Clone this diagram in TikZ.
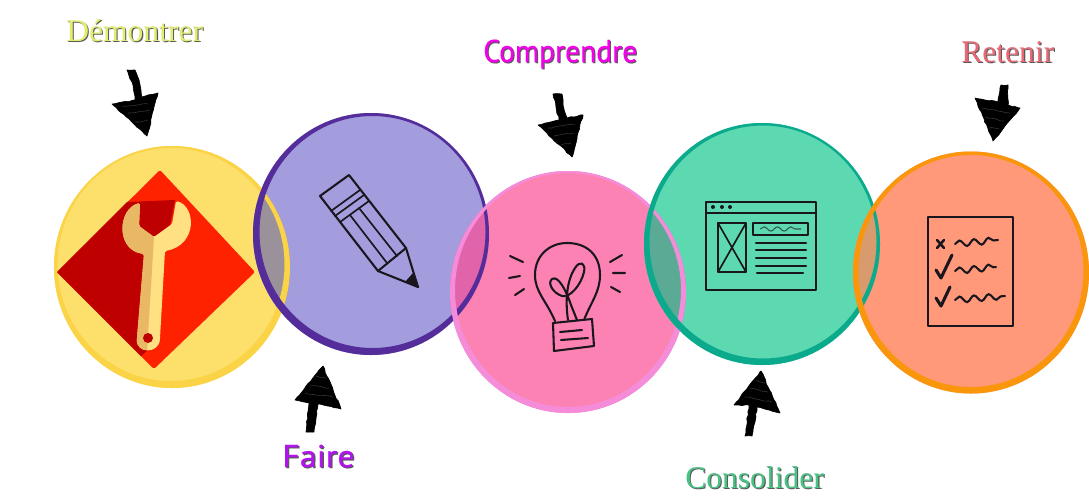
\documentclass[tikz,border=0pt]{standalone}
\usepackage{fontspec}
\setmainfont{Liberation Serif}
\newfontfamily\dinfont[FakeBold=0.35]{PT Sans}
\usetikzlibrary{decorations.pathmorphing}
\definecolor{yFill}{RGB}{253,223,108}
\definecolor{yRing}{RGB}{250,212,70}
\definecolor{vFill}{RGB}{163,157,222}
\definecolor{vRing}{RGB}{84,45,155}
\definecolor{pFill}{RGB}{252,130,180}
\definecolor{pRing}{RGB}{245,140,218}
\definecolor{gFill}{RGB}{93,217,178}
\definecolor{gRing}{RGB}{12,170,140}
\definecolor{oFill}{RGB}{255,153,122}
\definecolor{oRing}{RGB}{250,150,12}
\definecolor{lensYV}{RGB}{155,145,155}
\definecolor{lensVP}{RGB}{225,100,170}
\definecolor{lensPG}{RGB}{90,170,150}
\definecolor{lensGO}{RGB}{215,155,110}
\definecolor{redL}{RGB}{255,34,0}
\definecolor{redD}{RGB}{190,0,0}
\definecolor{wrL}{RGB}{255,224,130}
\definecolor{wrD}{RGB}{232,184,100}
\definecolor{ink}{RGB}{25,22,30}
\definecolor{tDem}{RGB}{226,236,110}
\definecolor{tCom}{RGB}{245,0,235}
\definecolor{tFai}{RGB}{178,20,240}
\definecolor{tCon}{RGB}{72,195,132}
\definecolor{tRet}{RGB}{232,105,118}
\tikzset{
  sketcharrow/.style={fill=black,draw=black,line width=0.5pt,line join=round,
    decorate,decoration={random steps,segment length=2.6,amplitude=0.45}},
  scratch/.style={draw=white,opacity=0.2,line width=0.45pt,decorate,decoration={random steps,segment length=3,amplitude=0.5}},
  icon/.style={draw=ink,line width=1.55pt,line cap=round,line join=round},
  iconthin/.style={draw=ink,line width=1.25pt,line cap=round,line join=round},
  squig/.style={draw=ink,line width=1.55pt,line cap=round,decorate,decoration={snake,segment length=11,amplitude=2.3}},
  serlabel/.style={anchor=base west,inner sep=0pt,font=\fontsize{23.7}{28}\selectfont},
  dinlabel/.style={anchor=base west,inner sep=0pt,font=\dinfont\fontsize{23.6}{28}\selectfont},
  disc/.style={x radius=118,y radius=121}
}
\newcommand{\shadowed}[2]{\rlap{\kern0.8pt\raisebox{-0.8pt}{\color{black!65}#2}}{\color{#1}#2}}
\begin{document}
\begin{tikzpicture}[x=0.75pt,y=-0.75pt]
\useasboundingbox (0,0) rectangle (1089,501);
\fill[white] (0,0) rectangle (1089,501);
% discs
\fill[yFill] (172,267) ellipse [disc];
\fill[vFill] (371,234) ellipse [disc];
\fill[pFill] (568,292) ellipse [disc];
\fill[gFill] (762,244) ellipse [disc];
\fill[oFill] (971,272.5) ellipse [disc];
% overlaps
\begin{scope}\clip (172,267) ellipse [disc]; \fill[lensYV] (371,234) ellipse [disc];\end{scope}
\begin{scope}\clip (371,234) ellipse [disc]; \fill[lensVP] (568,292) ellipse [disc];\end{scope}
\begin{scope}\clip (568,292) ellipse [disc]; \fill[lensPG] (762,244) ellipse [disc];\end{scope}
\begin{scope}\clip (762,244) ellipse [disc]; \fill[lensGO] (971,272.5) ellipse [disc];\end{scope}
% rims
\fill[yRing,even odd rule] (172,267) ellipse [disc] (171,264.5) ellipse [x radius=113.5,y radius=116.5];
\fill[vRing,even odd rule] (371,234) ellipse [disc] (372.5,232) ellipse [x radius=113,y radius=116];
\fill[pRing,even odd rule] (568,292) ellipse [disc] (568,290) ellipse [x radius=113,y radius=117];
\fill[gRing,even odd rule] (762,244) ellipse [disc] (763,242) ellipse [x radius=113.5,y radius=116.5];
\fill[oRing,even odd rule] (971,272.5) ellipse [disc] (971,271) ellipse [x radius=112.5,y radius=116];
% diamond and spanner
\fill[redL,rounded corners=1.5] (160,170) -- (255,272) -- (154,369) -- (57,272) -- cycle;
\fill[redD] (57,272) -- (127,202) -- (175,200) -- (170,225) -- (154,237) -- (154,345) -- (141,356) -- cycle;
\def\wrenchpath{(140,203) .. controls (118,208) and (115,250) .. (144,254) -- (137,338) .. controls (136,354) and (159,354) .. (160,338) -- (165,251) .. controls (198,245) and (196,206) .. (176,201) -- (172,224) -- (154,237) -- (139,226) -- cycle}
\fill[wrL,rounded corners=1.2] \wrenchpath;
\begin{scope}
  \clip (100,190) -- (154,190) -- (154,237) -- (147,352) -- (100,360) -- cycle;
  \fill[wrD,rounded corners=1.2] \wrenchpath;
\end{scope}
\fill[redD] (148,338) circle (5);
% pencil
\draw[icon] (320,196) -- (349,175) -- (406,248) -- (378,271) -- cycle;
\draw[icon] (406,248) -- (418,287) -- (378,271);
\draw[iconthin] (331,211) -- (360,190) (335,216) -- (364,195) (340,222) -- (369,201);
\draw[iconthin] (350,215) -- (387,263) (359,208) -- (397,256);
\fill[ink] (405,282) -- (413,273) -- (419,288) -- cycle;
% bulb
\draw[icon] (555,321) .. controls (546,300) and (535,292) .. (535,275) .. controls (535,255) and (550,243) .. (567,243) .. controls (587,243) and (600,255) .. (600,275) .. controls (600,292) and (591,302) .. (584,320);
\draw[icon] (568,320) .. controls (565,300) and (567,280) .. (575,268) .. controls (580,260) and (586,263) .. (584,272) .. controls (581,285) and (570,298) .. (562,296) .. controls (553,293) and (547,283) .. (552,279) .. controls (558,275) and (566,290) .. (571,305) -- (577,320);
\draw[icon] (553,323) -- (592,319) -- (594,346) -- (554,351) -- cycle;
\draw[icon] (560,332) -- (582,330) (561,340) -- (588,338);
\draw[icon] (510,256) -- (523,262) (509,278) -- (520,276) (515,295) -- (524,289);
\draw[icon] (610,262) -- (622,255) (613,273) -- (625,273) (611,287) -- (620,292);
% window
\draw[icon] (706,202) rectangle (816,290);
\draw[icon] (706,213) -- (816,213);
\fill[ink] (713,207) circle (2) (722,207) circle (2) (730,207) circle (2);
\draw[icon] (718,223) rectangle (746,272);
\draw[iconthin] (718,223) -- (746,272) (746,223) -- (718,272);
\draw[icon] (753,223) rectangle (808,235);
\draw[draw=ink!65!gFill,line width=0.8pt,decorate,decoration={snake,segment length=10,amplitude=1.6}] (760,229) -- (801,229);
\draw[icon] (756,243) -- (806,243) (756,250) -- (806,250) (756,258) -- (806,258) (756,266) -- (806,266) (757,273) -- (803,273);
% checklist
\draw[icon] (928,217) rectangle (1013,326);
\draw[icon,line width=1.9pt] (937,240) -- (944,248) (944,240) -- (937,248);
\draw[squig] (955,244) -- (998,240);
\draw[squig] (955,271) -- (996,267);
\draw[squig] (955,300) -- (1005,296);
\draw[icon,line width=2.3pt] (936,270) -- (941,278) -- (952,255);
\draw[icon,line width=2.3pt] (936,298) -- (941,306) -- (950,287);
% hand-drawn arrows
\fill[sketcharrow] (127,70) -- (135,70) -- (139,80) -- (142,97) -- (158,93) -- (147,136) -- (112,104) -- (135,100) -- (133,85) -- cycle;
\fill[sketcharrow] (553,94) -- (562,94) -- (563,105) -- (567,118) -- (583,115) -- (572,157) -- (538,125) -- (559,120) -- (556,107) -- cycle;
\fill[sketcharrow] (1001,85) -- (1008,85) -- (1008,105) -- (1020,108) -- (993,141) -- (975,98) -- (998,102) -- cycle;
\fill[sketcharrow] (323,366) -- (341,409) -- (318,404) -- (316,418) -- (314,432) -- (306,432) -- (309,403) -- (295,400) -- cycle;
\fill[sketcharrow] (761,371) -- (780,413) -- (757,407) -- (755,422) -- (752,436) -- (745,436) -- (749,405) -- (734,405) -- cycle;
\draw[scratch] (122,106) -- (148,104) (128,113) -- (150,110) (135,122) -- (148,120);
\draw[scratch] (548,128) -- (575,124) (554,136) -- (574,133) (561,145) -- (571,143);
\draw[scratch] (982,108) -- (1010,113) (985,117) -- (1004,121) (989,127) -- (999,129);
\draw[scratch] (305,393) -- (333,397) (310,385) -- (329,388) (316,376) -- (326,378);
\draw[scratch] (745,397) -- (772,402) (750,388) -- (768,392) (756,380) -- (765,383);
% labels
\node[serlabel] (dem) at (66,41) {\shadowed{tDem}{Démontrer}};
\node[dinlabel,xscale=0.94] (com) at (483,62) {\shadowed{tCom}{Comprendre}};
\node[dinlabel,xscale=1.08] (fai) at (282,467) {\shadowed{tFai}{Faire}};
\node[serlabel] (con) at (685,488) {\shadowed{tCon}{Consolider}};
\node[serlabel] (ret) at (961,62) {\shadowed{tRet}{Retenir}};
\end{tikzpicture}
\end{document}
